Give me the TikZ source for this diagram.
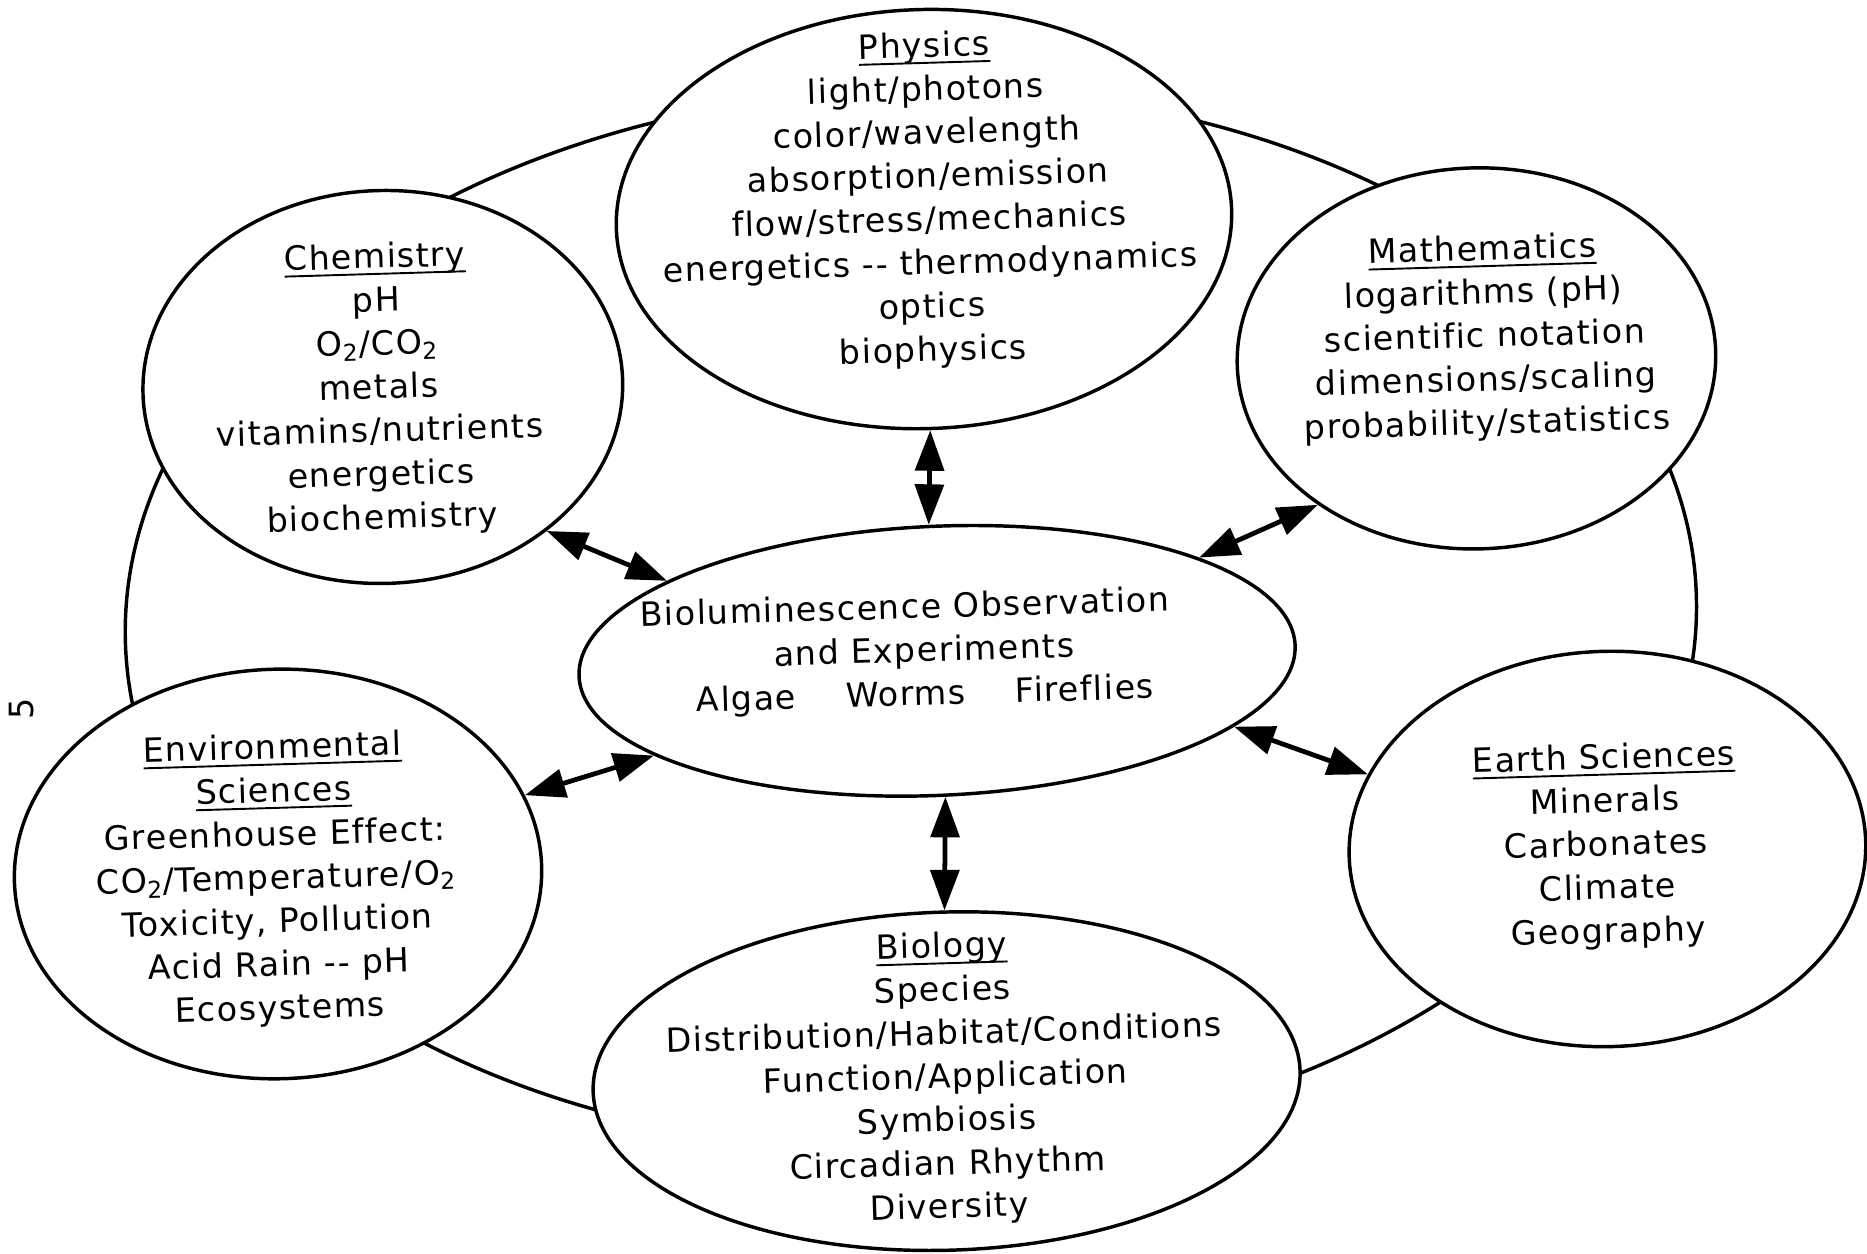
\documentclass[tikz,border=0pt]{standalone}
\usepackage{fontspec}
\setmainfont{DejaVu Sans}[LetterSpace=4,Ligatures=NoCommon]
\usetikzlibrary{shapes.geometric,arrows.meta}
\newcommand\hd[1]{\setbox0\hbox{#1}\rlap{\rule[-2.8pt]{\wd0}{0.8pt}}\box0}
\newcommand\subtwo{\textsubscript{2}}
\begin{document}
\begin{tikzpicture}[x=0.5pt,y=-0.5pt,
  bub/.style={ellipse,draw,line width=1.45pt,fill=white,inner sep=0pt,rotate=1.7},
  txt/.style={align=center,font=\fontsize{14}{18.25}\selectfont,inner sep=0pt,rotate=1.7},
  link/.style={line width=2pt,{Triangle[length=17pt,width=12pt]}-{Triangle[length=17pt,width=12pt]}}]
\useasboundingbox (0,0) rectangle (1568,1053);
\fill[white] (0,0) rectangle (1568,1053);
% outer ring
\node[bub,fill=none,minimum width=660pt,minimum height=445pt] (ring) at (765,520) {};
% bubbles
\node[bub,minimum width=258.5pt,minimum height=176pt] (phys) at (776,184) {};
\node[bub,minimum width=201.5pt,minimum height=165pt] (chem) at (321.5,325) {};
\node[bub,minimum width=201pt,minimum height=160pt] (math) at (1240,301) {};
\node[bub,minimum width=301pt,minimum height=113pt,rotate=0.8] (cen) at (787,555) {};
\node[bub,minimum width=221.5pt,minimum height=172pt] (env) at (233.5,734) {};
\node[bub,minimum width=217pt,minimum height=166pt] (earth) at (1350,713) {};
\node[bub,minimum width=297pt,minimum height=142pt] (bio) at (795,908) {};
% texts
\node[txt] (physT) at (780,168) {\hd{Physics}\\light/photons\\color/wavelength\\absorption/emission\\flow/stress/mechanics\\energetics -{}- thermodynamics\\optics\\biophysics};
\node[txt] (chemT) at (318,327) {\hd{Chemistry}\\pH\\O\subtwo/CO\subtwo\\metals\\vitamins/nutrients\\energetics\\biochemistry};
\node[txt] (mathT) at (1247,284) {\hd{Mathematics}\\logarithms (pH)\\scientific notation\\dimensions/scaling\\probability/statistics};
\node[txt] (cenT) at (776,548) {Bioluminescence Observation\rule{15pt}{0pt}\\and Experiments\\Algae\hspace{1.5em}Worms\hspace{1.5em}Fireflies};
\node[txt] (envT) at (232,739) {\hd{Environmental}\\\hd{Sciences}\\Greenhouse Effect:\\CO\subtwo/Temperature/O\subtwo\\Toxicity, Pollution\\Acid Rain -{}- pH\\Ecosystems};
\node[txt] (earthT) at (1349,711) {\hd{Earth Sciences}\\Minerals\\Carbonates\\Climate\\Geography};
\node[txt] (bioT) at (794,906) {\hd{Biology}\\Species\\Distribution/Habitat/Conditions\\Function/Application\\Symbiosis\\Circadian Rhythm\\Diversity};
\node[font=\fontsize{14}{14}\selectfont,rotate=90,inner sep=0pt] (pagenum) at (18,595) {5};
% connectors
\draw[link] (chem.-43) -- (cen.161.5);
\draw[link] (phys.-90.1) -- (cen.91.5);
\draw[link] (math.221.6) -- (cen.19.5);
\draw[link] (env.16.5) -- (cen.196.6);
\draw[link] (cen.-15.7) -- (earth.161.7);
\draw[link] (cen.-89.3) -- (bio.89.9);
\end{tikzpicture}
\end{document}
